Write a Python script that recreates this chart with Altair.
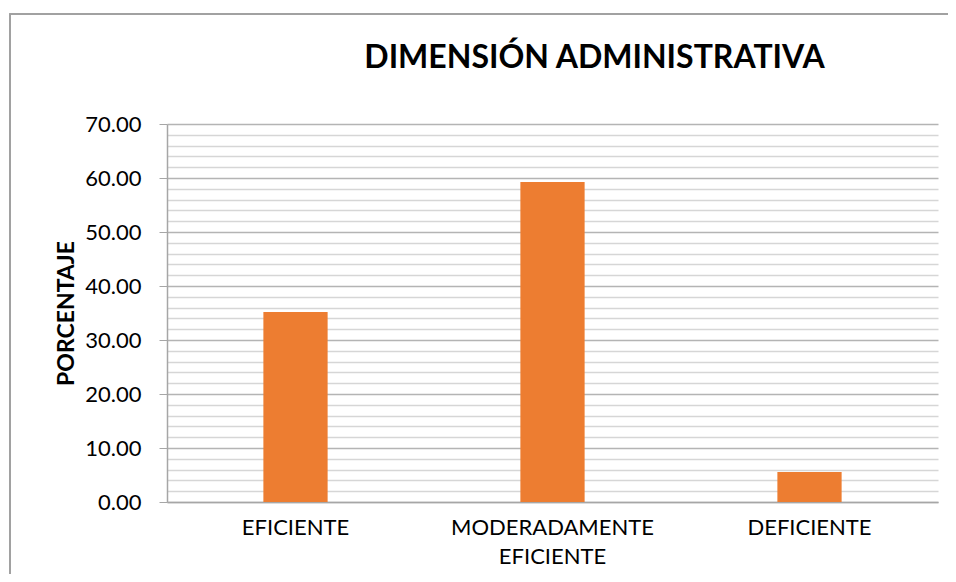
import altair as alt
import pandas as pd

categories = ["EFICIENTE", "MODERADAMENTE EFICIENTE", "DEFICIENTE"]
values = [35.19, 59.26, 5.56]
y_ticks = list(range(0, 71, 2))

df = pd.DataFrame({"categoria": categories, "porcentaje": values})

FONT = "Lato"
is_major = "datum.value % 10 == 0"

bars = alt.Chart(df).mark_bar(color="#ED7D31").encode(
    x=alt.X(
        "categoria:N",
        sort=categories,
        scale=alt.Scale(paddingInner=0.75, paddingOuter=0.375),
        axis=alt.Axis(
            title=None,
            labelAngle=0,
            labelExpr="split(datum.label, ' ')",
            labelFont=FONT,
            labelFontSize=22,
            labelColor="#000000",
            labelPadding=15,
            labelLineHeight=29,
            labelLimit=400,
            ticks=False,
            domainColor="#a6a6a6",
            domainWidth=1.5,
            grid=False,
        ),
    ),
    y=alt.Y(
        "porcentaje:Q",
        scale=alt.Scale(domain=[0, 70], nice=False),
        axis=alt.Axis(
            title="PORCENTAJE",
            titleFont=FONT,
            titleFontSize=23,
            titleFontWeight="bold",
            titleColor="#000000",
            titleAngle=-90,
            titleX=-94,
            titleY=189,
            titleAlign="center",
            titleBaseline="alphabetic",
            values=y_ticks,
            labelExpr=f"{is_major} ? format(datum.value, '.2f') : ''",
            labelFont=FONT,
            labelFontSize=22,
            labelColor="#000000",
            labelPadding=18,
            tickSize=8,
            tickColor="#a6a6a6",
            tickOpacity={"condition": {"test": is_major, "value": 1}, "value": 0},
            domainColor="#a6a6a6",
            domainWidth=1.5,
            grid=True,
            gridColor={"condition": {"test": is_major, "value": "#b4b4b4"}, "value": "#d6d6d6"},
            gridWidth=1.5,
        ),
    ),
)

frame = alt.Chart(df).mark_rect(
    fillOpacity=0, stroke="#a0a0a0", strokeWidth=1.5
).encode(
    x=alt.value(-157), x2=alt.value(800), y=alt.value(-110), y2=alt.value(470)
)

chart = alt.layer(bars, frame).properties(
    width=771,
    height=378,
    title=alt.TitleParams(
        "DIMENSIÓN ADMINISTRATIVA",
        font=FONT,
        fontSize=32,
        fontWeight="bold",
        color="#000000",
        anchor="middle",
        frame="group",
        dx=42,
        offset=-87,
        baseline="alphabetic",
    ),
    autosize=alt.AutoSizeParams(type="none"),
    padding={"left": 159, "top": 116, "right": 10, "bottom": 72},
).configure_view(stroke=None)

chart.save("out.html", embed_options={"renderer": "svg", "actions": False})
